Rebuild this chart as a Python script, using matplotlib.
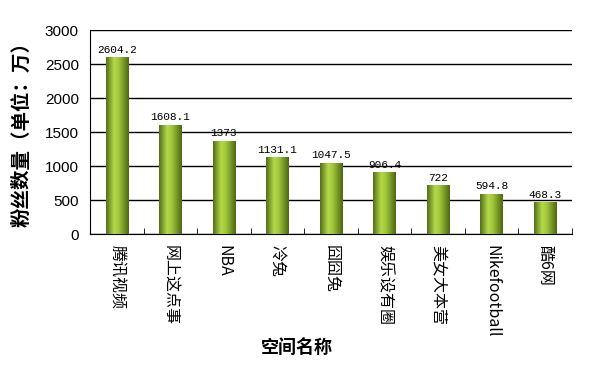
import matplotlib
matplotlib.use("Agg")
import matplotlib.pyplot as plt
import numpy as np
from matplotlib.colors import LinearSegmentedColormap

categories = ["腾讯视频", "网上这点事", "NBA", "冷兔", "囧囧兔", "娱乐设有圈", "美女大本营", "Nikefootball", "酷6网"]
values = [2604.2, 1608.1, 1373, 1131.1, 1047.5, 906.4, 722, 594.8, 468.3]
value_labels = ["2604.2", "1608.1", "1373", "1131.1", "1047.5", "906.4", "722", "594.8", "468.3"]
yticks = [0, 500, 1000, 1500, 2000, 2500, 3000]

plt.rcParams['font.family'] = ['Noto Sans CJK SC', 'DejaVu Sans']

fig = plt.figure(figsize=(6.14, 3.80), dpi=100)
ax = fig.add_axes([0.1466, 0.3842, 0.785, 0.5368])

x = np.arange(len(categories))
bars = ax.bar(x, values, width=0.42, color="#8fb832", zorder=3)

cmap = LinearSegmentedColormap.from_list("cyl", [
    (0.0, "#556f17"), (0.35, "#b3d94a"), (0.55, "#a2c93b"), (1.0, "#4f6812")])
grad = np.linspace(0, 1, 64).reshape(1, -1)
for b in bars:
    x0, w, h = b.get_x(), b.get_width(), b.get_height()
    im = ax.imshow(grad, cmap=cmap, aspect='auto', extent=[x0, x0 + w, 0, h],
                   zorder=4, interpolation='bilinear')
    im.set_clip_path(b)

for xi, v, lab in zip(x, values, value_labels):
    ax.text(xi, v + 35, lab, ha='center', va='bottom', fontsize=8,
            family=['Liberation Mono', 'DejaVu Sans Mono'], zorder=5)

ax.set_xlim(-0.5, len(categories) - 0.5)
ax.set_ylim(0, 3000)
ax.set_yticks(yticks)
ax.set_yticklabels([str(t) for t in yticks], family=['Liberation Sans'], fontsize=11)
ax.tick_params(axis='y', length=0, pad=8)
ax.yaxis.grid(True, color='black', linewidth=1, zorder=1)
ax.set_axisbelow(True)

ax.set_xticks(x)
ax.set_xticklabels(categories, rotation=-90, fontsize=11.5, va='top', ha='center',
                   family=['Noto Sans CJK SC', 'DejaVu Sans'])
ax.tick_params(axis='x', length=0, pad=8)
ax.set_xticks(np.arange(-0.5, len(categories), 1), minor=True)
ax.tick_params(axis='x', which='minor', length=4, direction='in', color='black')

ax.spines['right'].set_visible(False)
ax.spines['top'].set_visible(False)
ax.spines['left'].set_color('black')
ax.spines['bottom'].set_color('black')

fig.text(0.484, 0.085, "空间名称", ha='center', va='center', fontsize=13, fontweight='bold')
fig.text(0.035, 0.66, "粉丝数量（单位：万）", ha='center', va='center', fontsize=14,
         fontweight='bold', rotation=90)

fig.savefig("out.png", dpi=100)
